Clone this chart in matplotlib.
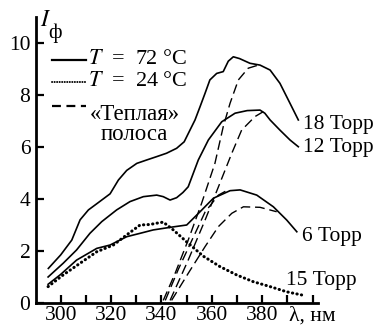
import numpy as np
import matplotlib
matplotlib.use("Agg")
import matplotlib.pyplot as plt

plt.rcParams['font.family'] = ['Liberation Serif', 'DejaVu Serif']
plt.rcParams['mathtext.fontset'] = 'stix'

# curves: wavelength (nm), intensity
lam_18 = [295.1, 300, 304.4, 307.7, 311, 314.9, 319.6, 322.9, 326.2, 330.2, 334.1,
          338.1, 342, 346, 349, 351.3, 353.3, 355.3, 357.3, 359.2, 361.9, 364.5,
          366.5, 368.5, 371, 375.1, 379.1, 383.1, 387, 391, 394.3]
int_18 = [1.33, 1.85, 2.42, 3.2, 3.58, 3.86, 4.2, 4.73, 5.1, 5.37, 5.5,
          5.63, 5.76, 5.95, 6.2, 6.65, 7.04, 7.55, 8.07, 8.58, 8.83, 8.9,
          9.3, 9.47, 9.4, 9.22, 9.15, 8.96, 8.45, 7.68, 7.04]

lam_12 = [295, 301, 306.3, 311.6, 316.3, 322.2, 327.5, 332.8, 338.1, 340.7, 343.4,
          346, 348.5, 350.6, 354.6, 358.6, 363.9, 369.2, 374, 379.1, 381, 383.1,
          387, 391, 394.3]
int_12 = [1.0, 1.53, 2.04, 2.68, 3.13, 3.58, 3.9, 4.09, 4.15, 4.09, 3.96,
          4.05, 4.25, 4.47, 5.5, 6.27, 6.97, 7.3, 7.4, 7.42, 7.3, 7.04,
          6.65, 6.27, 6.01]

lam_6 = [295, 300, 306.3, 314.3, 319.6, 326.2, 331.5, 336.7, 343.4, 350, 355.3,
         360.6, 367.2, 371.2, 377.8, 384.4, 389.7, 393.7]
int_6 = [0.72, 1.1, 1.65, 2.1, 2.23, 2.55, 2.68, 2.81, 2.91, 3.0, 3.51,
         4.03, 4.32, 4.35, 4.15, 3.7, 3.19, 2.74]

lam_cold = [295, 301, 307.7, 314.3, 320.9, 326.2, 331.5, 335.5, 338.1, 340.7, 344.7,
            350, 356.6, 363.2, 369.8, 376.4, 383.1, 389.7, 395.6]
int_cold = [0.63, 1.08, 1.53, 1.97, 2.23, 2.62, 3.0, 3.02, 3.07, 3.11, 2.81,
            2.35, 1.8, 1.4, 1.08, 0.82, 0.63, 0.43, 0.31]

# "warm" band curves (dashed)
warm_lam = [
    [340.7, 345.4, 350.6, 355.9, 361.2, 364.5, 367.2, 370.5, 374.4, 378.4],
    [343.4, 350.6, 357.3, 362.6, 367.9, 371.8, 377.1, 380.4],
    [341.5, 346.7, 352, 357.3, 362.6, 366],
    [344, 350.6, 357.3, 362.6, 367.9, 372.5, 379.1, 385.7],
]
warm_int = [
    [0.1, 1.14, 2.42, 3.83, 5.37, 6.78, 7.68, 8.58, 9.03, 9.15],
    [0.1, 1.65, 3.19, 4.47, 5.76, 6.65, 7.17, 7.36],
    [0.1, 1.3, 2.4, 3.5, 4.15, 4.33],
    [0.1, 1.14, 2.17, 2.94, 3.45, 3.7, 3.68, 3.51],
]

curve_labels = ['18 Торр', '12 Торр', '6 Торр', '15 Торр']
label_pos = [(396.0, 6.85), (396.0, 6.0), (395.8, 2.55), (389.5, 0.88)]

x_ticks = np.arange(300, 401, 10)
x_ticklabels = ['300', '', '320', '', '340', '', '360', '', '380', '', '']
y_ticks = [0, 2, 4, 6, 8, 10]

fig = plt.figure(figsize=(3.79, 3.27), dpi=100)
ax = fig.add_axes([0.095, 0.0734, 0.744, 0.8746])

solid = dict(color='black', lw=1.2)
ax.plot(lam_18, int_18, **solid)
ax.plot(lam_12, int_12, **solid)
ax.plot(lam_6, int_6, **solid)
ax.plot(lam_cold, int_cold, color='black', lw=2.2, linestyle=(0, (0.1, 1.4)),
        dash_capstyle='round')
for lw_, iw_ in zip(warm_lam, warm_int):
    ax.plot(lw_, iw_, color='black', lw=1.0, linestyle=(0, (7, 3.5)))

for txt, (lx, ly) in zip(curve_labels, label_pos):
    ax.text(lx, ly, txt, fontsize=15.5, va='center', ha='left')

ax.set_xlim(290.2, 402.1)
ax.set_ylim(0, 11)
ax.set_xticks(x_ticks)
ax.set_xticklabels(x_ticklabels)
ax.set_yticks(y_ticks)
ax.tick_params(direction='in', length=6, width=1.6, labelsize=15.5)
ax.tick_params(axis='x', pad=2)
ax.tick_params(axis='y', pad=4)
for s in ['top', 'right']:
    ax.spines[s].set_visible(False)
for s in ['left', 'bottom']:
    ax.spines[s].set_linewidth(2.0)

# axis titles
ax.text(390.6, -0.14, 'λ, нм', fontsize=15.5, ha='left', va='top')
ax.text(291.6, 10.45, '$I$', fontsize=17, ha='left', va='bottom')
ax.text(295.0, 10.0, 'ф', fontsize=15, ha='left', va='bottom')

# legend drawn by hand
tr = ax.transAxes
ax.plot([0.057, 0.177], [0.85, 0.85], color='black', lw=1.6, transform=tr)
ax.plot([0.057, 0.177], [0.773, 0.773], color='black', lw=1.4,
        linestyle=(0, (0.1, 1.2)), dash_capstyle='round', transform=tr)
ax.plot([0.057, 0.177], [0.689, 0.689], color='black', lw=1.6,
        linestyle=(0, (4, 2.5)), transform=tr)
ax.text(0.185, 0.85, '$T$  =  72 °C', fontsize=16, transform=tr, va='center')
ax.text(0.185, 0.773, '$T$  =  24 °C', fontsize=16, transform=tr, va='center')
ax.text(0.35, 0.695, '«Теплая»\nполоса', fontsize=16.5, transform=tr,
        va='top', ha='center', multialignment='center', linespacing=0.95)

fig.savefig('out.png', dpi=100)
